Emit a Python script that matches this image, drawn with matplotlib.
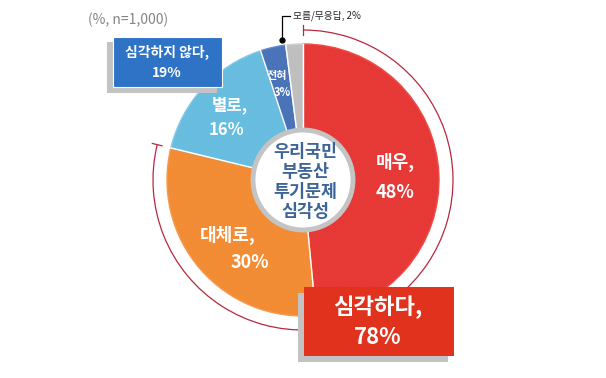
import matplotlib.pyplot as plt
import matplotlib.patches as patches
import numpy as np

plt.rcParams['font.family'] = ['Noto Sans CJK KR', 'DejaVu Sans']
plt.rcParams['hatch.linewidth'] = 0.4

# data
labels = ['매우', '대체로', '별로', '전혀', '모름/무응답']
values = [48, 30, 16, 3, 2]
colors = ['#e01c1c', '#ee7a14', '#42acd6', '#2a58a6', '#a9a9a9']
hatch_colors = ['#ec504c', '#f69b4e', '#85cbe8', '#6389c8', '#d0d0d0']
serious_total = 78
not_serious_total = 19
sample_note = '(%, n=1,000)'
center_title = '우리국민\n부동산\n투기문제\n심각성'

W, H = 606, 378


def Y(y):
    # picture coords measured from the top
    return H - y


fig = plt.figure(figsize=(W / 100, H / 100), dpi=100)
ax = fig.add_axes([0, 0, 1, 1])

cx, cy, R = 303, Y(180), 136

wedges, _ = ax.pie(values, startangle=90, counterclock=False,
                   center=(cx, cy), radius=R, colors=colors,
                   wedgeprops=dict(linewidth=1.0))
for w, hc in zip(wedges, hatch_colors):
    w.set_hatch('/' * 24)
    w.set_edgecolor(hc)

# thin white separators between slices
angles = 90 - np.cumsum([0] + values) / sum(values) * 360
for a in angles[:-1]:
    t = np.deg2rad(a)
    ax.plot([cx, cx + R * np.cos(t)], [cy, cy + R * np.sin(t)],
            color='white', lw=1.0, zorder=3)

# inner circle
ax.add_patch(patches.Circle((cx, cy), 50, facecolor='white',
                            edgecolor='#c4c4c4', lw=3.5, zorder=4))
ax.text(cx + 2, cy - 2, center_title, ha='center', va='center',
        fontsize=12.5, fontweight='bold', color='#3d6597',
        linespacing=1.15, zorder=5)

# red arc around the "serious" share
Ra = 150
end_angle = 90 - serious_total / sum(values) * 360
ax.add_patch(patches.Arc((cx, cy), 2 * Ra, 2 * Ra, theta1=end_angle,
                         theta2=90, color='#b8283f', lw=0.9, zorder=2))
for a in [90, end_angle]:
    t = np.deg2rad(a)
    ax.plot([cx + (Ra - 5) * np.cos(t), cx + (Ra + 5) * np.cos(t)],
            [cy + (Ra - 5) * np.sin(t), cy + (Ra + 5) * np.sin(t)],
            color='#b8283f', lw=0.9, zorder=2)

# slice labels
txt = dict(color='white', fontweight='bold', ha='center', va='center', zorder=5)
ax.text(395, Y(162), f'{labels[0]},', fontsize=13, **txt)
ax.text(395, Y(192), f'{values[0]}%', fontsize=13, **txt)
ax.text(228, Y(235), f'{labels[1]},', fontsize=13, **txt)
ax.text(250, Y(262), f'{values[1]}%', fontsize=13, **txt)
ax.text(230, Y(105), f'{labels[2]},', fontsize=12, **txt)
ax.text(226, Y(130), f'{values[2]}%', fontsize=12, **txt)
ax.text(277, Y(76), labels[3], fontsize=8, **txt)
ax.text(282, Y(92), f'{values[3]}%', fontsize=8, **txt)

# leader for the small grey slice
ax.plot([282, 282, 290], [Y(40), Y(16), Y(16)], color='black', lw=0.9, zorder=5)
ax.plot(282, Y(40), 'o', color='black', ms=3.5, zorder=6)
ax.text(293, Y(16), f'{labels[4]}, {values[4]}%', fontsize=7, color='#222222',
        ha='left', va='center', zorder=5)

# boxes with shadows
ax.add_patch(patches.Rectangle((107, Y(93)), 110, 51, facecolor='#c3c3c3',
                               edgecolor='none', zorder=6))
ax.add_patch(patches.Rectangle((113, Y(87)), 109, 50, facecolor='#2e73c6',
                               edgecolor='white', lw=0.8, zorder=7))
ax.text(167, Y(52), '심각하지 않다,', fontsize=10, **{**txt, 'zorder': 8})
ax.text(167, Y(73), f'{not_serious_total}%', fontsize=10, **{**txt, 'zorder': 8})

ax.add_patch(patches.Rectangle((298, Y(362)), 150, 69, facecolor='#c3c3c3',
                               edgecolor='none', zorder=6))
ax.add_patch(patches.Rectangle((304, Y(356)), 150, 69, facecolor='#e0321c',
                               edgecolor='none', zorder=7))
ax.text(378, Y(307), '심각하다,', fontsize=16, **{**txt, 'zorder': 8})
ax.text(378, Y(338), f'{serious_total}%', fontsize=16, **{**txt, 'zorder': 8})

ax.text(128, Y(20), sample_note, fontsize=10, color='#858585',
        ha='center', va='center')

ax.set_xlim(0, W)
ax.set_ylim(0, H)
ax.set_aspect('equal')
ax.axis('off')

fig.savefig('out.png', dpi=100)
